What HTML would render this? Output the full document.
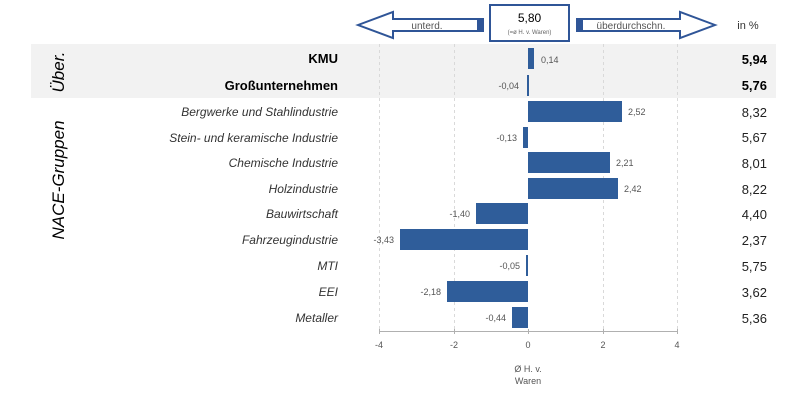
<!DOCTYPE html>
<html><head><meta charset="utf-8"><style>
html,body{margin:0;padding:0;background:#fff;}
svg{display:block;font-family:"Liberation Sans",sans-serif;}
</style></head><body>
<svg width="812" height="414" viewBox="0 0 812 414" xmlns="http://www.w3.org/2000/svg">
<rect x="31" y="44" width="745" height="54" fill="#f2f2f2"/>
<g stroke="#d9d9d9" stroke-dasharray="3,3" stroke-width="1">
<line x1="379.5" y1="44" x2="379.5" y2="331"/>
<line x1="454.5" y1="44" x2="454.5" y2="331"/>
<line x1="603.5" y1="44" x2="603.5" y2="331"/>
<line x1="677.5" y1="44" x2="677.5" y2="331"/>
</g>
<line x1="379" y1="331.5" x2="678" y2="331.5" stroke="#b0b0b0"/>
<g stroke="#b0b0b0"><line x1="379.5" y1="329" x2="379.5" y2="334"/><line x1="454.5" y1="329" x2="454.5" y2="334"/><line x1="528.5" y1="329" x2="528.5" y2="334"/><line x1="603.5" y1="329" x2="603.5" y2="334"/><line x1="677.5" y1="329" x2="677.5" y2="334"/></g>
<!-- arrows -->
<polygon points="358,25 393,12 393,19 483,19 483,31 393,31 393,38" fill="#fff" stroke="#2f5597" stroke-width="2"/>
<rect x="477" y="19" width="6" height="12" fill="#2f5597"/>
<polygon points="715,25 680,12 680,19 577,19 577,31 680,31 680,38" fill="#fff" stroke="#2f5597" stroke-width="2"/>
<rect x="577" y="19" width="6" height="12" fill="#2f5597"/>
<rect x="490" y="5" width="79" height="36" fill="#fff" stroke="#2f5597" stroke-width="2"/>
<text x="529.5" y="22" font-size="12" text-anchor="middle" fill="#000">5,80</text>
<text x="529.5" y="34" font-size="6" text-anchor="middle" fill="#666">(=ø H. v. Waren)</text>
<text x="427" y="29" font-size="10" text-anchor="middle" fill="#555">unterd.</text>
<text x="631" y="29" font-size="10" text-anchor="middle" fill="#555">überdurchschn.</text>
<text x="748" y="29" font-size="11" text-anchor="middle" fill="#333">in %</text>
<!-- labels -->
<g font-size="13" font-weight="bold" text-anchor="end" fill="#000">
<text x="338" y="63">KMU</text>
<text x="338" y="90">Großunternehmen</text>
</g>
<g font-size="12" font-style="italic" text-anchor="end" fill="#333">
<text x="338" y="116">Bergwerke und Stahlindustrie</text>
<text x="338" y="142">Stein- und keramische Industrie</text>
<text x="338" y="167">Chemische Industrie</text>
<text x="338" y="193">Holzindustrie</text>
<text x="338" y="218">Bauwirtschaft</text>
<text x="338" y="244">Fahrzeugindustrie</text>
<text x="338" y="270">MTI</text>
<text x="338" y="296">EEI</text>
<text x="338" y="322">Metaller</text>
</g>
<text transform="translate(64,72) rotate(-90)" font-size="17" font-style="italic" text-anchor="middle" fill="#000">Über.</text>
<text transform="translate(64,180) rotate(-90)" font-size="17" font-style="italic" text-anchor="middle" fill="#000">NACE-Gruppen</text>
<!-- bars -->
<g fill="#2f5d9a">
<rect x="528" y="48" width="6" height="21"/>
<rect x="527" y="75" width="2" height="21"/>
<rect x="528" y="101" width="94" height="21"/>
<rect x="523" y="127" width="5" height="21"/>
<rect x="528" y="152" width="82" height="21"/>
<rect x="528" y="178" width="90" height="21"/>
<rect x="476" y="203" width="52" height="21"/>
<rect x="400" y="229" width="128" height="21"/>
<rect x="526" y="255" width="2" height="21"/>
<rect x="447" y="281" width="81" height="21"/>
<rect x="512" y="307" width="16" height="21"/>
</g>
<g font-size="9" fill="#555">
<text x="541" y="63">0,14</text>
<text x="519" y="89" text-anchor="end">-0,04</text>
<text x="628" y="115">2,52</text>
<text x="517" y="141" text-anchor="end">-0,13</text>
<text x="616" y="166">2,21</text>
<text x="624" y="192">2,42</text>
<text x="470" y="217" text-anchor="end">-1,40</text>
<text x="394" y="243" text-anchor="end">-3,43</text>
<text x="520" y="269" text-anchor="end">-0,05</text>
<text x="441" y="295" text-anchor="end">-2,18</text>
<text x="506" y="321" text-anchor="end">-0,44</text>
</g>
<g font-size="13" text-anchor="end">
<text x="767" y="64" font-weight="bold">5,94</text>
<text x="767" y="90" font-weight="bold">5,76</text>
<text x="767" y="117" fill="#222">8,32</text>
<text x="767" y="142" fill="#222">5,67</text>
<text x="767" y="168" fill="#222">8,01</text>
<text x="767" y="194" fill="#222">8,22</text>
<text x="767" y="219" fill="#222">4,40</text>
<text x="767" y="245" fill="#222">2,37</text>
<text x="767" y="271" fill="#222">5,75</text>
<text x="767" y="297" fill="#222">3,62</text>
<text x="767" y="323" fill="#222">5,36</text>
</g>
<g font-size="9" fill="#555" text-anchor="middle">
<text x="379" y="348">-4</text><text x="454" y="348">-2</text><text x="528" y="348">0</text><text x="603" y="348">2</text><text x="677" y="348">4</text>
<text x="528" y="372">Ø H. v.</text><text x="528" y="384">Waren</text>
</g>
</svg>
</body></html>
